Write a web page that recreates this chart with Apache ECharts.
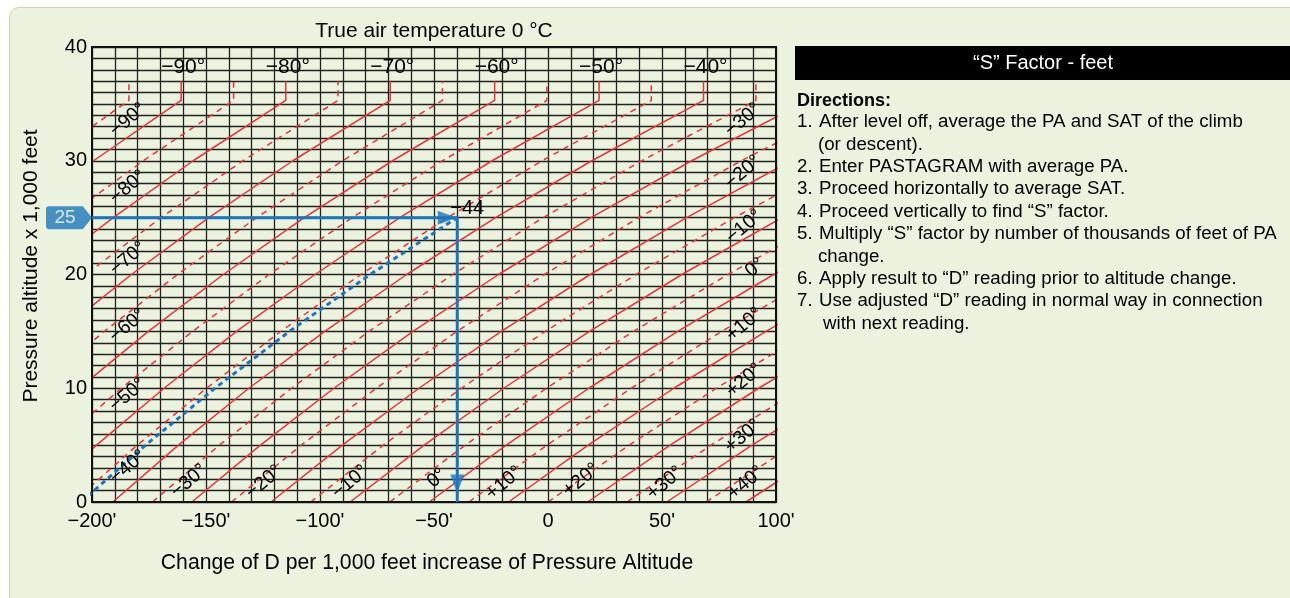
<!DOCTYPE html>
<html><head><meta charset="utf-8">
<script src="https://cdn.jsdelivr.net/npm/echarts@6/dist/echarts.min.js"></script>
<style>
html,body{margin:0;padding:0;background:#fff;}
#bg{position:absolute;left:9px;top:7px;width:1300px;height:600px;border-radius:10px;background:#ebf2dd;border:1.5px solid #c3db9f;box-sizing:border-box;}
#c{position:absolute;left:0;top:0;width:1290px;height:598px;}
</style>
</head><body><div id="bg"></div><div id="c"></div>
<script>
// ---- data ----
const paLevels = [0, 5, 10, 15, 20, 25, 30, 35.3];   // pressure altitude (x1000 ft)
const paTop = 37;                                   // top of the vertical (stratosphere) segments
const isoTemps = [-95,-90,-85,-80,-75,-70,-65,-60,-55,-50,-45,-40,-35,-30,-25,-20,-15,-10,-5,0,5,10,15,20,25,30,35,40];
// "S" factor (ft) of each isotherm at the paLevels above
const isoS = [
  [-381.7,-359.8,-336.1,-310.7,-283.2,-253.5,-221.2,-183.8],
  [-364.4,-341.8,-317.5,-291.3,-263.1,-232.6,-199.3,-160.9],
  [-347.0,-323.8,-298.9,-272.0,-243.0,-211.6,-177.5,-137.9],
  [-329.7,-305.8,-280.2,-252.7,-222.9,-190.7,-155.6,-115.0],
  [-312.3,-287.9,-261.6,-233.3,-202.8,-169.7,-133.8,-92.1],
  [-295.0,-269.9,-243.0,-214.0,-182.7,-148.8,-111.9,-69.2],
  [-277.6,-251.9,-224.3,-194.6,-162.5,-127.8,-90.1,-46.3],
  [-260.3,-234.0,-205.7,-175.3,-142.4,-106.9,-68.2,-23.4],
  [-242.9,-216.0,-187.1,-155.9,-122.3,-85.9,-46.3,-0.5],
  [-225.6,-198.0,-168.4,-136.6,-102.2,-65.0,-24.5,22.4],
  [-208.2,-180.1,-149.8,-117.2,-82.1,-44.0,-2.6,45.3],
  [-190.9,-162.1,-131.2,-97.9,-62.0,-23.0,19.2,68.2],
  [-173.5,-144.1,-112.5,-78.5,-41.8,-2.1,41.1,91.2],
  [-156.2,-126.1,-93.9,-59.2,-21.7,18.9,63.0,114.1],
  [-138.8,-108.2,-75.3,-39.9,-1.6,39.8,84.8,137.0],
  [-121.5,-90.2,-56.6,-20.5,18.5,60.8,106.7],
  [-104.1,-72.2,-38.0,-1.2,38.6,81.7,128.5],
  [-86.8,-54.3,-19.4,18.2,58.7,102.7],
  [-69.4,-36.3,-0.7,37.5,78.9,123.6],
  [-52.1,-18.3,17.9,56.9,99.0,144.6],
  [-34.7,-0.4,36.5,76.2,119.1],
  [-17.3,17.6,55.2,95.6,139.2],
  [0.0,35.6,73.8,114.9],
  [17.4,53.6,92.4,134.3],
  [34.7,71.5,111.1],
  [52.1,89.5,129.7],
  [69.4,107.5],
  [86.8,125.4]
];
// worked example (-44 °C at 25,000 ft)
const exampleTempLabel = "−44";
const examplePA = 25;
const exampleS = -39.8;
const blueIsoPA = [0, 5, 10, 15, 20, 25];
const blueIsoS = [-204.8, -176.5, -146.1, -113.4, -78.0, -39.8];
// axis ticks
const xTicks = [-200, -150, -100, -50, 0, 50, 100];
const xTickLabels = ["−200'", "−150'", "−100'", "−50'", "0", "50'", "100'"];
const yTicks = [0, 10, 20, 30, 40];
const yTickLabels = ["0", "10", "20", "30", "40"];
// isotherm labels
const topLabelTemps = [-90, -80, -70, -60, -50, -40];
const topLabelText = ["−90°", "−80°", "−70°", "−60°", "−50°", "−40°"];
const sideLabelText = ["−90°","−80°","−70°","−60°","−50°","−40°","−30°","−20°","−10°","0°","+10°","+20°","+30°","+40°","−30°","−20°","−10°","0°","+10°","+20°","+30°"];
const sideLabelS  = [-184.2,-184.2,-184.2,-184.4,-184.4,-184.2,-157.5,-124.6,-86.8,-48.7,-19.3,14.5,51.3,86.8,85.5,85.5,86.0,90.8,86.0,86.0,85.5];
const sideLabelPA = [33.6,27.7,21.4,15.5,9.4,3.1,1.85,1.76,1.76,2.1,1.67,1.93,1.67,1.7,33.6,29.0,24.2,20.6,15.6,10.7,5.8];
// text panel
const panelTitle = "“S” Factor - feet";
const directionsHead = "Directions:";
const directionNums = ["1.", "", "2.", "3.", "4.", "5.", "", "6.", "7.", ""];
const directionLines = [
  "After level off, average the PA and SAT of the climb",
  "(or descent).",
  "Enter PASTAGRAM with average PA.",
  "Proceed horizontally to average SAT.",
  "Proceed vertically to find “S” factor.",
  "Multiply “S” factor by number of thousands of feet of PA",
  "change.",
  "Apply result to “D” reading prior to altitude change.",
  "Use adjusted “D” reading in normal way in connection",
  "with next reading."
];
const chartTitle = "True air temperature 0 °C";
const xName = "Change of D per 1,000 feet increase of Pressure Altitude";
const yName = "Pressure altitude x 1,000 feet";

// ---- styles ----
const RED = '#e8323a';
const BLUE = '#1c76bd';
const INK = '#000000';
const FONT = 'Liberation Sans, Arial, Helvetica, sans-serif';

const series = [];
isoTemps.forEach((t, i) => {
  const s = isoS[i];
  const pts = s.map((v, k) => [v, paLevels[k]]);
  if (s.length === paLevels.length && s[s.length - 1] <= 100) pts.push([s[s.length - 1], paTop]);
  series.push({
    type: 'line', data: pts, symbol: 'none', silent: true, z: 3,
    lineStyle: { color: RED, width: 1.5, type: (t % 10 === 0) ? 'solid' : [6, 5] }
  });
});
// blue dashed -44 isotherm
series.push({
  type: 'line', data: blueIsoS.map((v, k) => [v, blueIsoPA[k]]), symbol: 'none', silent: true, z: 6,
  lineStyle: { color: BLUE, width: 3, type: [5, 4] }
});
// blue path: enter at 25, across to SAT, down to S factor
series.push({
  type: 'line', data: [[-200, examplePA], [exampleS, examplePA], [exampleS, 0]], symbol: 'none', silent: true, z: 7,
  lineStyle: { color: BLUE, width: 3, type: 'solid' }
});
// arrowheads
series.push({
  type: 'scatter', silent: true, z: 8,
  data: [
    { value: [exampleS, examplePA], symbolRotate: -90, symbolOffset: [-10, 0] },
    { value: [exampleS, 0], symbolRotate: 180, symbolOffset: [0, -18] }
  ],
  symbol: 'triangle', symbolSize: [14, 19], itemStyle: { color: BLUE }
});
// "25" pointer box
series.push({
  type: 'scatter', silent: true, z: 8,
  data: [[-200, examplePA]],
  symbol: 'path://M3,0 L36,0 L45,11 L36,22 L3,22 Q0,22 0,19 L0,3 Q0,0 3,0 Z',
  symbolSize: [46, 23], symbolOffset: [-23, 0], symbolKeepAspect: false,
  itemStyle: { color: BLUE },
  label: { show: true, position: 'inside', formatter: String(examplePA), color: '#fff', fontSize: 19, fontFamily: FONT, offset: [-4, 0] }
});
const textLabel = (extra) => Object.assign({ show: true, color: INK, opacity: 1, textBorderWidth: 0, fontFamily: FONT }, extra);
// "-44" label
series.push({
  type: 'scatter', silent: true, z: 9,
  data: [[exampleS, examplePA]], symbol: 'circle', symbolSize: 1, itemStyle: { color: 'rgba(0,0,0,0)' },
  label: textLabel({ position: 'inside', formatter: exampleTempLabel, fontSize: 20, offset: [10, -9] })
});
// top isotherm labels
series.push({
  type: 'scatter', silent: true, z: 9,
  data: topLabelTemps.map((t, k) => ({ value: [isoS[isoTemps.indexOf(t)][paLevels.length - 1], paTop], name: topLabelText[k] })),
  symbol: 'circle', symbolSize: 1, itemStyle: { color: 'rgba(0,0,0,0)' },
  label: textLabel({ position: 'top', distance: 3, formatter: p => p.name, fontSize: 21, offset: [2, 0] })
});
// rotated side labels
series.push({
  type: 'scatter', silent: true, z: 9,
  data: sideLabelText.map((txt, k) => ({ value: [sideLabelS[k], sideLabelPA[k]], name: txt })),
  symbol: 'circle', symbolSize: 1, itemStyle: { color: 'rgba(0,0,0,0)' },
  label: textLabel({ position: 'inside', rotate: 40, formatter: p => p.name, fontSize: 19.5 })
});

const graphic = [
  { type: 'text', x: 434, y: 31, style: { text: chartTitle, font: '21px ' + FONT, fill: INK, textAlign: 'center', textVerticalAlign: 'middle' } },
  { type: 'rect', shape: { x: 795, y: 46, width: 500, height: 34 }, style: { fill: '#000' } },
  { type: 'text', x: 1043, y: 63, style: { text: panelTitle, font: '20px ' + FONT, fill: '#fff', textAlign: 'center', textVerticalAlign: 'middle' } },
  { type: 'text', x: 797, y: 101, style: { text: directionsHead, font: 'bold 18px ' + FONT, fill: INK, textAlign: 'left', textVerticalAlign: 'middle' } }
];
const lineY = [122, 145, 167, 189, 211.5, 234, 256.5, 279, 301, 324];
const lineX = [819, 818, 819, 819, 819, 819, 818, 819, 819, 823];
directionLines.forEach((txt, k) => {
  if (directionNums[k]) graphic.push({ type: 'text', x: 797, y: lineY[k], style: { text: directionNums[k], font: '18.7px ' + FONT, fill: INK, textAlign: 'left', textVerticalAlign: 'middle' } });
  graphic.push({ type: 'text', x: lineX[k], y: lineY[k], style: { text: txt, font: '18.7px ' + FONT, fill: INK, textAlign: 'left', textVerticalAlign: 'middle' } });
});

const chart = echarts.init(document.getElementById('c'), null, { renderer: 'canvas' });
chart.setOption({
  animation: false,
  backgroundColor: 'transparent',
  textStyle: { fontFamily: FONT },
  grid: { left: 92, right: 514, top: 47, bottom: 96, show: true, borderColor: '#111', borderWidth: 2, backgroundColor: 'transparent', z: 4 },
  xAxis: {
    type: 'value', min: -200, max: 100, interval: 10,
    axisLine: { show: false }, axisTick: { show: false },
    splitLine: { show: true, lineStyle: { color: '#222', width: 1.3 } },
    axisLabel: { margin: 9, fontSize: 20, color: INK, formatter: v => { const i = xTicks.indexOf(v); return i >= 0 ? xTickLabels[i] : ''; } },
    name: xName, nameLocation: 'middle', nameGap: 51,
    nameTextStyle: { fontSize: 21.2, color: INK, padding: [0, 14, 0, 0] }
  },
  yAxis: {
    type: 'value', min: 0, max: 40, interval: 1,
    axisLine: { show: false }, axisTick: { show: false },
    splitLine: { show: true, lineStyle: { color: '#222', width: 1.3 } },
    axisLabel: { margin: 5, fontSize: 20, color: INK, formatter: v => { const i = yTicks.indexOf(v); return i >= 0 ? yTickLabels[i] : ''; } },
    name: yName, nameLocation: 'middle', nameGap: 50,
    nameTextStyle: { fontSize: 21, color: INK, padding: [0, 0, 0, 17] }
  },
  graphic: graphic,
  series: series
});
</script>
</body></html>
